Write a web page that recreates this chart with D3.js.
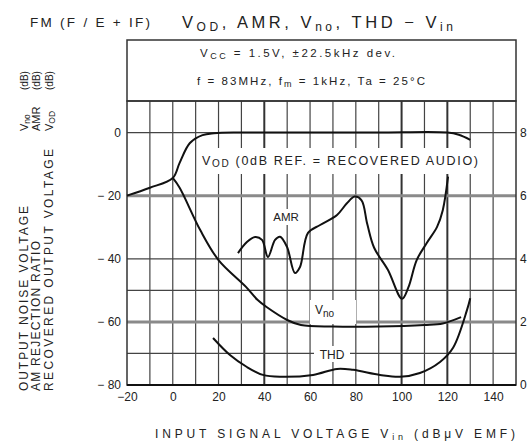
<!DOCTYPE html>
<html>
<head>
<meta charset="utf-8">
<script src="https://cdn.jsdelivr.net/npm/d3@7"></script>
<style>
  body { margin: 0; background: #fff; }
  text { font-family: "Liberation Sans", Arial, sans-serif; fill: #222; }
</style>
</head>
<body>
<script>
// data
var vodVin = [-20, -10, 0, 3, 7.5, 13, 18, 30, 60, 90, 120, 125, 130];
var vodDb  = [-20, -17.5, -14.4, -9.6, -3.3, -0.8, -0.2, 0, 0, 0, 0, -0.7, -2.3];

var vnoVin = [0, 3, 12, 20, 32, 37, 41, 50, 56, 70, 90, 110, 118, 126];
var vnoDb  = [-14.4, -17.5, -30.9, -40.4, -48.9, -53, -55.3, -59.4, -61, -61.5, -61.5, -61, -60.5, -58.5];

var amrVin = [28.5, 32.4, 36, 39, 41.6, 44.7, 46.9, 49.9, 53.4, 55.6, 59.1, 64.4, 71.8, 76, 79.5, 82.5, 85, 88, 94, 100.2, 103, 106.6, 111, 115.5, 118, 120.3];
var amrDb  = [-38.2, -34.7, -33.1, -34, -39.4, -34, -33, -36.2, -44.5, -42.6, -31.8, -29.3, -26.1, -22.5, -20.3, -21.5, -29, -36.5, -43.5, -52.7, -49, -40.4, -35, -29.9, -24.6, -14];

var thdVin = [17.6, 25, 32.4, 39.4, 46.9, 61.3, 71.8, 78.8, 90.6, 99.3, 108, 116.8, 122.5, 128.6, 130];
var thdPct = [1.49, 0.95, 0.57, 0.32, 0.26, 0.32, 0.51, 0.48, 0.32, 0.26, 0.38, 0.73, 1.18, 2.38, 2.75];

var xTicks = [-20, 0, 20, 40, 60, 80, 100, 120, 140];
var yTicks = [0, -20, -40, -60, -80];
var thdTicks = [8, 6, 4, 2, 0];
var hGrid = [0, -20, -40, -50, -60, -70];

var svg = d3.select("body").append("svg").attr("width", 527).attr("height", 443);

var x = d3.scaleLinear().domain([-20, 150]).range([127, 516]);
var y = d3.scaleLinear().domain([-80, 10]).range([385, 101]);
var yThd = d3.scaleLinear().domain([0, 9]).range([385, 101]);

// grid
var grid = svg.append("g");
d3.range(-10, 150, 10).forEach(function(v){
  var heavy = (v == 40 || v == 100 || v == 120);
  grid.append("line").attr("x1", x(v)).attr("x2", x(v)).attr("y1", y(10)).attr("y2", y(-80))
    .attr("stroke", heavy ? "#333" : "#444").attr("stroke-width", heavy ? 2 : 1.2);
});
hGrid.forEach(function(d){
  var heavy = (d == -20 || d == -60);
  grid.append("line").attr("x1", x(-20)).attr("x2", x(150)).attr("y1", y(d)).attr("y2", y(d))
    .attr("stroke", heavy ? "#8a8a8a" : "#444").attr("stroke-width", heavy ? 3 : 1.2);
});

// header box + frame
svg.append("rect").attr("x", x(-20)).attr("y", 40).attr("width", x(150) - x(-20)).attr("height", y(10) - 40)
  .attr("fill", "#fff").attr("stroke", "#333").attr("stroke-width", 1.5);
svg.append("rect").attr("x", x(-20)).attr("y", y(10)).attr("width", x(150) - x(-20)).attr("height", y(-80) - y(10))
  .attr("fill", "none").attr("stroke", "#333").attr("stroke-width", 1.5);
svg.append("line").attr("x1", x(-20)).attr("x2", x(150)).attr("y1", y(-80)).attr("y2", y(-80))
  .attr("stroke", "#111").attr("stroke-width", 2.2);

// curves
var line = d3.line().curve(d3.curveCatmullRom.alpha(0.5));
function draw(vs, ds, sc){
  svg.append("path")
    .datum(vs.map(function(v, i){ return [x(v), sc(ds[i])]; }))
    .attr("fill", "none").attr("stroke", "#111").attr("stroke-width", 2)
    .attr("d", line);
}
draw(vodVin, vodDb, y);
draw(vnoVin, vnoDb, y);
draw(amrVin, amrDb, y);
draw(thdVin, thdPct, yThd);

// labels with white backgrounds
function label(cx, cy, w, h){
  svg.append("rect").attr("x", cx - w / 2).attr("y", cy - h / 2).attr("width", w).attr("height", h).attr("fill", "#fff");
}
label(340, 161, 280, 26);
var t = svg.append("text").attr("x", 202).attr("y", 165).attr("font-size", 12.5)
  .attr("textLength", 276).attr("lengthAdjust", "spacing");
t.append("tspan").text("V");
t.append("tspan").attr("font-size", 10).attr("dy", 2).text("OD");
t.append("tspan").attr("dy", -2).text(" (0dB REF. = RECOVERED AUDIO)");

label(286, 217, 40, 16);
svg.append("text").attr("x", 286).attr("y", 221).attr("text-anchor", "middle").attr("font-size", 11.5).text("AMR");

label(333, 312, 46, 24);
t = svg.append("text").attr("x", 315).attr("y", 314).attr("font-size", 12);
t.append("tspan").text("V");
t.append("tspan").attr("font-size", 10).attr("dy", 3).text("no");

label(332, 354, 36, 16);
svg.append("text").attr("x", 332).attr("y", 359).attr("text-anchor", "middle").attr("font-size", 12).text("THD");

// axes (labels only)
var xAxis = svg.append("g").attr("transform", "translate(0," + (y(-80) + 4) + ")")
  .call(d3.axisBottom(x).tickValues(xTicks).tickSize(0).tickFormat(function(d){ return d < 0 ? "\u2212" + (-d) : d; }));
var yAxis = svg.append("g").attr("transform", "translate(" + (x(-20) - 3) + ",0)")
  .call(d3.axisLeft(y).tickValues(yTicks).tickSize(0).tickFormat(function(d){ return d < 0 ? "\u2212 " + (-d) : d; }));
var rAxis = svg.append("g").attr("transform", "translate(" + (x(150) + 1) + ",0)")
  .call(d3.axisRight(yThd).tickValues(thdTicks).tickSize(0));
[xAxis, yAxis, rAxis].forEach(function(g){
  g.select(".domain").remove();
  g.selectAll("text").attr("font-size", 12).attr("fill", "#222")
    .style("font-family", "'Liberation Sans', Arial, sans-serif");
});

// titles
svg.append("text").attr("x", 30).attr("y", 27).attr("font-size", 13.5)
  .attr("textLength", 120).attr("lengthAdjust", "spacing").text("FM (F / E + IF)");
t = svg.append("text").attr("x", 182).attr("y", 28).attr("font-size", 16.5)
  .attr("textLength", 271).attr("lengthAdjust", "spacing");
t.append("tspan").text("V");
t.append("tspan").attr("font-size", 12).attr("dy", 3).text("OD");
t.append("tspan").attr("dy", -3).text(", AMR, V");
t.append("tspan").attr("font-size", 12).attr("dy", 3).text("no");
t.append("tspan").attr("dy", -3).text(", THD  \u2212  V");
t.append("tspan").attr("font-size", 12).attr("dy", 3).text("in");

t = svg.append("text").attr("x", 200).attr("y", 57).attr("font-size", 11.5)
  .attr("textLength", 195).attr("lengthAdjust", "spacing");
t.append("tspan").text("V");
t.append("tspan").attr("font-size", 9).attr("dy", 2).text("CC");
t.append("tspan").attr("dy", -2).text(" = 1.5V,  \u00b122.5kHz dev.");
t = svg.append("text").attr("x", 197).attr("y", 85).attr("font-size", 11.5)
  .attr("textLength", 228).attr("lengthAdjust", "spacing");
t.append("tspan").text("f = 83MHz, f");
t.append("tspan").attr("font-size", 9).attr("dy", 2).text("m");
t.append("tspan").attr("dy", -2).text(" = 1kHz, Ta = 25\u00b0C");

t = svg.append("text").attr("x", 155).attr("y", 438).attr("font-size", 12)
  .attr("textLength", 360).attr("lengthAdjust", "spacing");
t.append("tspan").text("INPUT SIGNAL VOLTAGE    V");
t.append("tspan").attr("font-size", 9).attr("dy", 2).text("in");
t.append("tspan").attr("dy", -2).text("   (dB\u03bcV EMF)");

// rotated y titles
var cols = [
  {x: 23, body: "OUTPUT NOISE VOLTAGE", len: 185, name: "V", sub: "no"},
  {x: 35, body: "AM REJECTION RATIO", len: 150, name: "AMR", sub: ""},
  {x: 48, body: "RECOVERED OUTPUT VOLTAGE", len: 242, name: "V", sub: "OD"}
];
cols.forEach(function(c){
  svg.append("text").attr("transform", "translate(" + (c.x + 4.5) + ",391) rotate(-90)")
    .attr("font-size", 12).attr("textLength", c.len).attr("lengthAdjust", "spacing").text(c.body);
  var n = svg.append("text").attr("transform", "translate(" + (c.x + 4.5) + ",131) rotate(-90)").attr("font-size", 11);
  n.append("tspan").text(c.name);
  if (c.sub) n.append("tspan").attr("font-size", 8.5).attr("dy", 2).text(c.sub);
  svg.append("text").attr("transform", "translate(" + (c.x + 4.5) + ",90) rotate(-90)")
    .attr("font-size", 10).text("(dB)");
});
</script>
</body>
</html>
